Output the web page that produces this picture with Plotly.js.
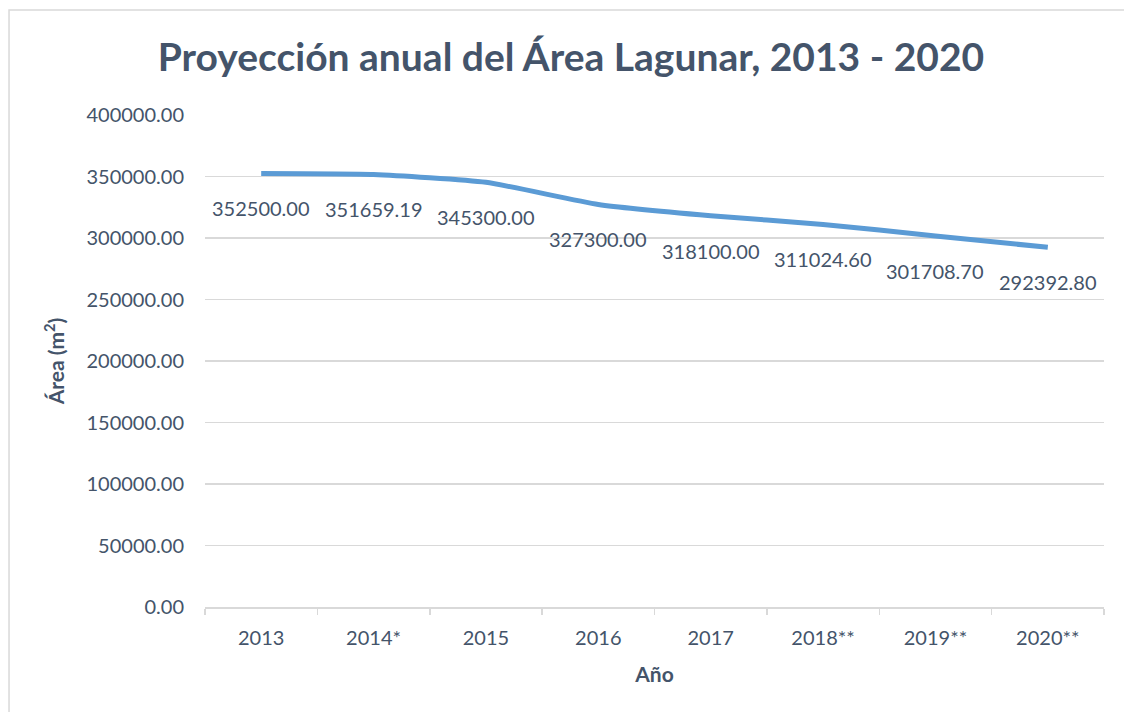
<!DOCTYPE html>
<html>
<head>
<meta charset="utf-8">
<script src="https://cdn.plot.ly/plotly-3.0.1.min.js"></script>
<style>html,body{margin:0;padding:0;background:#fff;}#chart{width:1124px;height:712px;}</style>
</head>
<body>
<div id="chart"></div>
<script>
const years = ["2013","2014*","2015","2016","2017","2018**","2019**","2020**"];
const area = [352500.00, 351659.19, 345300.00, 327300.00, 318100.00, 311024.60, 301708.70, 292392.80];
const labels = ["352500.00","351659.19","345300.00","327300.00","318100.00","311024.60","301708.70","292392.80"];
const yTicks = [0,50000,100000,150000,200000,250000,300000,350000,400000];
const yTickText = ["0.00","50000.00","100000.00","150000.00","200000.00","250000.00","300000.00","350000.00","400000.00"];

const txt = '#44546A';
const font = 'Lato, "Open Sans", sans-serif';

const trace = {
  x: years, y: area, type: 'scatter', mode: 'lines',
  line: {color: '#5B9BD5', width: 5, shape: 'spline', smoothing: 0.5},
  hoverinfo: 'skip'
};

// category axis: annotations placed by category index
const annotations = years.map((yr, i) => ({
  x: i, y: area[i], xref: 'x', yref: 'y', text: labels[i], showarrow: false,
  yshift: -35, font: {family: font, size: 20, color: txt}
}));

const layout = {
  width: 1124, height: 712,
  paper_bgcolor: '#ffffff', plot_bgcolor: '#ffffff',
  margin: {l: 205, r: 20, t: 115, b: 105},
  showlegend: false,
  title: {text: '<b>Proyección anual del Área Lagunar, 2013 - 2020</b>', x: 0.508, xanchor: 'center', xref: 'container', y: 0.92, yanchor: 'middle', yref: 'container',
    font: {family: font, size: 39, color: txt}},
  xaxis: {
    type: 'category', categoryorder: 'array', categoryarray: years, range: [-0.5, 7.5], autorange: false,
    showgrid: false, showline: true, linecolor: '#D9D9D9', linewidth: 1.5,
    ticks: 'outside', tickson: 'boundaries', ticklen: 6, tickcolor: '#D9D9D9', tickwidth: 1.5,
    tickangle: 0, ticklabelstandoff: 12,
    tickfont: {family: font, size: 20, color: txt},
    title: {text: '<b>Año</b>', font: {family: font, size: 21, color: txt}, standoff: 20},
    fixedrange: true
  },
  yaxis: {
    range: [0, 400000], autorange: false, tickvals: yTicks, ticktext: yTickText,
    showgrid: true, gridcolor: '#D9D9D9', gridwidth: 1.3, zeroline: false, showline: false,
    ticks: '', ticklabelstandoff: 20,
    tickfont: {family: font, size: 20, color: txt},
    title: {text: '<b>Área (m<sup>2</sup>)</b>', font: {family: font, size: 21, color: txt}, standoff: 16},
    fixedrange: true
  },
  annotations: annotations,
  shapes: [{type: 'rect', xref: 'paper', yref: 'paper', x0: -0.218, x1: 1.03, y0: -0.22, y1: 1.2134,
    line: {color: '#D9D9D9', width: 1.5}, fillcolor: 'rgba(0,0,0,0)', layer: 'below'}]
};

Plotly.newPlot('chart', [trace], layout, {displayModeBar: false, staticPlot: true});
</script>
</body>
</html>
